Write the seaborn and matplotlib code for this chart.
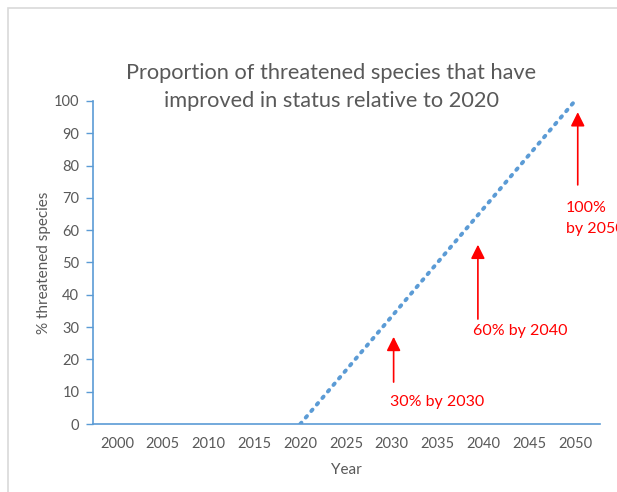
import numpy as np
import pandas as pd
import matplotlib.pyplot as plt
import seaborn as sns
from matplotlib.patches import Rectangle

# target line (linear from 2020 to 2050)
years = [2020, 2050]
pct = [0, 100]

# annotations: label, arrow x (year), arrow tip, arrow tail, text position
ann_labels = ["30% by 2030", "60% by 2040", "100%\nby 2050"]
ann_x = [2030.2, 2039.4, 2050.3]
ann_tip = [27, 55.5, 96.5]
ann_tail = [13, 32.5, 74]
ann_text_x = [2029.8, 2038.9, 2049.0]
ann_text_y = [9.0, 31.0, 69.0]

xticks = list(range(2000, 2051, 5))
yticks = list(range(0, 101, 10))

sns.set_theme(style="white")
plt.rcParams['font.family'] = ['Lato', 'DejaVu Sans']

blue = "#5B9BD5"
grey = "#595959"

fig = plt.figure(figsize=(6.17, 4.92), dpi=100)
ax = fig.add_axes([0.151, 0.138, 0.821, 0.657])

df = pd.DataFrame({"Year": years, "pct": pct})
sns.lineplot(data=df, x="Year", y="pct", ax=ax, color=blue, linewidth=2.8,
             linestyle=(0, (0.5, 1.7)), dash_capstyle="round")

ax.set_xlim(1997.4, 2052.7)
ax.set_ylim(0, 100)
ax.set_xticks(xticks)
ax.set_yticks(yticks)
ax.tick_params(axis="y", length=5, width=1, color=blue, labelsize=10.5,
               labelcolor=grey, pad=5, left=True)
ax.tick_params(axis="x", length=0, labelsize=10.5, labelcolor=grey, pad=9)
for s in ["top", "right"]:
    ax.spines[s].set_visible(False)
for s in ["left", "bottom"]:
    ax.spines[s].set_color(blue)
    ax.spines[s].set_linewidth(1.2)

ax.set_xlabel("Year", fontsize=11, color=grey, labelpad=9)
ax.set_ylabel("% threatened species", fontsize=11, color=grey)
ax.yaxis.set_label_coords(-0.083, 0.5)

fig.text(0.537, 0.823, "Proportion of threatened species that have\nimproved in status relative to 2020",
         ha="center", va="center", fontsize=15.7, color=grey, linespacing=1.45)

for lab, x, tip, tail, tx, ty in zip(ann_labels, ann_x, ann_tip, ann_tail, ann_text_x, ann_text_y):
    ax.annotate("", xy=(x, tip), xytext=(x, tail),
                arrowprops=dict(arrowstyle="-|>,head_length=0.7,head_width=0.35",
                                color="red", lw=1.2, shrinkA=0, shrinkB=0))
    ax.text(tx, ty, lab, color="red", fontsize=11.5, ha="left", va="top",
            linespacing=1.65, clip_on=False)

fig.patches.append(Rectangle((8 / 617, -0.1), 1.2, 1 - 8 / 492 + 0.1,
                             transform=fig.transFigure, fill=False,
                             edgecolor="#d9d9d9", linewidth=1.2))

fig.savefig("out.png", dpi=100)
